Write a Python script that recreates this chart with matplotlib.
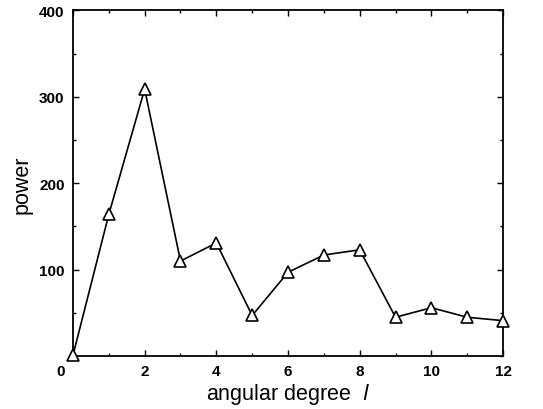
import matplotlib
matplotlib.use("Agg")
import matplotlib.pyplot as plt
from matplotlib.ticker import MultipleLocator

degree = [0, 1, 2, 3, 4, 5, 6, 7, 8, 9, 10, 11, 12]
power = [1, 164, 309, 110, 131, 47, 97, 117, 123, 45, 56, 45, 41]
xticks = [0, 2, 4, 6, 8, 10, 12]
yticks = [100, 200, 300, 400]

plt.rcParams['font.family'] = ['Liberation Sans', 'DejaVu Sans']
fig = plt.figure(figsize=(5.43, 4.10), dpi=100)
ax = fig.add_axes([0.1344, 0.129, 0.792, 0.843])

ax.plot(degree, power, color='black', lw=1.2, marker='^', ms=9,
        mfc='white', mec='black', mew=1.2, clip_on=False, zorder=3)

ax.set_xlim(0, 12)
ax.set_ylim(0, 400)
ax.set_xticks(xticks)
ax.set_xticklabels([''] + [str(t) for t in xticks[1:]])
ax.set_yticks(yticks)
ax.set_yticklabels([str(t) for t in yticks])
ax.xaxis.set_minor_locator(MultipleLocator(1))
ax.yaxis.set_minor_locator(MultipleLocator(50))
ax.tick_params(which='both', direction='in', top=True, right=True, width=1.0)
ax.tick_params(which='major', length=4, labelsize=11, pad=6)
ax.tick_params(which='minor', length=2)
for lbl in ax.get_xticklabels() + ax.get_yticklabels():
    lbl.set_fontweight('bold')
ax.annotate(str(xticks[0]), xy=(0, 0), xycoords=('data', 'axes fraction'),
            xytext=(-12, -8), textcoords='offset pixels', ha='center', va='top',
            fontsize=11, fontweight='bold')

for s in ax.spines.values():
    s.set_linewidth(1.3)

ax.set_xlabel(r'angular degree  $\mathit{l}$', fontsize=15.5, labelpad=2)
ax.set_ylabel('power', fontsize=15.5, labelpad=5)

fig.savefig('out.png', dpi=100)
